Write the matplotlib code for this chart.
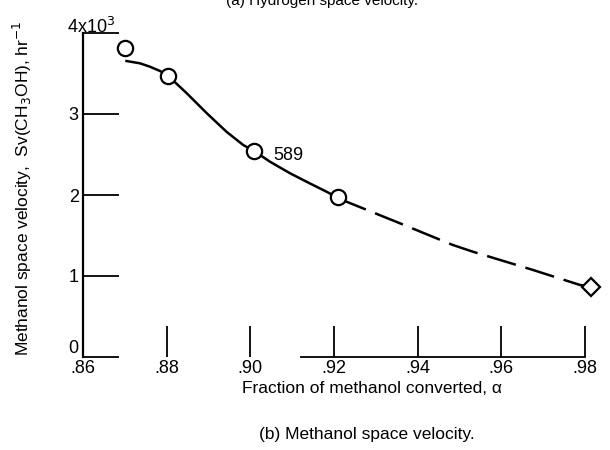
import matplotlib
matplotlib.use("Agg")
import matplotlib.pyplot as plt

plt.rcParams['font.family'] = ['Liberation Sans', 'DejaVu Sans']

# Measured points (circles) and extrapolated point (diamond)
alpha_pts = [0.870, 0.8804, 0.9009, 0.9210]
sv_pts = [3.82, 3.47, 2.54, 1.97]
alpha_ext = [0.9815]
sv_ext = [0.87]

# Faired curve through the data, solid part
alpha_solid = [0.8704, 0.8736, 0.8760, 0.8784, 0.8804, 0.8848, 0.8896, 0.8943,
               0.8983, 0.9009, 0.9047, 0.9095, 0.9142, 0.9182, 0.9210]
sv_solid = [3.654, 3.626, 3.584, 3.531, 3.469, 3.256, 3.009, 2.781,
            2.617, 2.543, 2.411, 2.268, 2.144, 2.041, 1.965]
# dashed extrapolation
alpha_dash = [0.9210, 0.9230, 0.9358, 0.9484, 0.9532, 0.9676, 0.9788, 0.9815]
sv_dash = [1.965, 1.917, 1.650, 1.383, 1.300, 1.074, 0.889, 0.87]

xticks = [0.86, 0.88, 0.90, 0.92, 0.94, 0.96, 0.98]
xticklabels = ['.86', '.88', '.90', '.92', '.94', '.96', '.98']
yticks = [0, 1, 2, 3, 4]
yticklabels = ['0', '1', '2', '3', '']

fig = plt.figure(figsize=(6.1, 4.5), dpi=100)
ax = fig.add_axes([83/610, 93/450, 502/610, 324/450])

ax.plot(alpha_solid, sv_solid, 'k-', lw=1.8)
ax.plot(alpha_dash, sv_dash, 'k-', lw=1.8, dashes=(12, 4))
ax.plot(alpha_pts, sv_pts, 'o', ms=11, mfc='white', mec='black', mew=1.6,
        clip_on=False)
ax.plot(alpha_ext, sv_ext, 'D', ms=9, mfc='white', mec='black', mew=1.6,
        clip_on=False)
ax.text(0.9054, 2.49, '589', fontsize=13, va='center', ha='left')

ax.set_xlim(0.86, 0.98)
ax.set_ylim(0, 4)
ax.set_xticks(xticks)
ax.set_xticklabels(xticklabels)
ax.set_yticks(yticks)
ax.set_yticklabels(yticklabels)
ax.tick_params(axis='x', direction='in', length=22, width=1.3, labelsize=13, pad=2)
ax.tick_params(axis='y', direction='in', length=26, width=1.3, labelsize=13, pad=3)
ax.get_yticklabels()[0].set_va('bottom')

for s in ['top', 'right']:
    ax.spines[s].set_visible(False)
ax.spines['left'].set_linewidth(1.6)
ax.spines['bottom'].set_linewidth(1.3)
ax.spines['bottom'].set_bounds(0.912, 0.98)

ax.text(0.016, 1.0, r'4x10$^3$', transform=ax.transAxes, fontsize=13,
        ha='center', va='baseline')

ax.set_xlabel('Fraction of methanol converted, α', fontsize=12.5)
ax.xaxis.set_label_coords(0.576, -0.073)
ax.set_ylabel(r'Methanol space velocity,  Sv(CH$_3$OH), hr$^{-1}$', fontsize=12.5)
ax.yaxis.set_label_coords(-0.098, 0.52)

fig.text(367/610, 1 - 435/450, '(b) Methanol space velocity.', fontsize=12.5,
         ha='center', va='center')
fig.text(322/610, 1 - 5/450, '(a) Hydrogen space velocity.', fontsize=11,
         ha='center', va='baseline')

fig.savefig('out.png', dpi=100)
